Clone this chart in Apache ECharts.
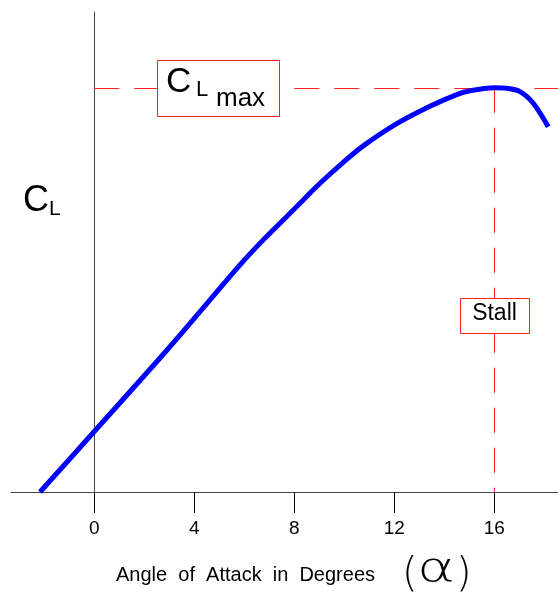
<!DOCTYPE html>
<html>
<head>
<meta charset="utf-8">
<script src="https://cdn.jsdelivr.net/npm/echarts@6/dist/echarts.min.js"></script>
<style>html,body{margin:0;padding:0;background:#fff}#c{width:558px;height:594px}</style>
</head>
<body>
<div id="c"></div>
<script>
// Angle of attack (degrees) and lift coefficient
const alpha = [-2.17, 0, 3.0, 5.83, 6.76, 7.56, 8.36, 9.03, 9.96, 10.76, 12.10, 13.43, 14.50, 15.03, 16.0, 16.5, 17.03, 17.56, 18.16];
const cl    = [0, 0.2395, 0.572, 0.899, 0.998, 1.077, 1.156, 1.222, 1.305, 1.370, 1.458, 1.527, 1.573, 1.588, 1.600, 1.598, 1.585, 1.539, 1.446];
const tickValues = [0, 4, 8, 12, 16];
const clMax = 1.6;
const stallAlpha = 16;
const xMin = -3.33, xMax = 18.55, yMax = 1.9;

const FONT = 'Liberation Sans, Arial, sans-serif';
const chart = echarts.init(document.getElementById('c'), null, {renderer: 'canvas'});
chart.setOption({
  animation: false,
  backgroundColor: '#fff',
  grid: {left: 11, right: 0, top: 12, bottom: 102},
  xAxis: {
    type: 'value', min: xMin, max: xMax,
    splitLine: {show: false},
    axisLine: {lineStyle: {color: '#444', width: 1}},
    axisTick: {show: true, customValues: tickValues, length: 21, lineStyle: {color: '#000', width: 1}},
    axisLabel: {show: true, customValues: tickValues, fontSize: 19, color: '#000', fontFamily: FONT, margin: 27}
  },
  yAxis: {
    type: 'value', min: 0, max: yMax,
    splitLine: {show: false},
    axisLine: {show: true, onZero: true, lineStyle: {color: '#444', width: 1}},
    axisTick: {show: false},
    axisLabel: {show: false}
  },
  series: [{
    type: 'line',
    data: alpha.map((a, i) => [a, cl[i]]),
    showSymbol: false,
    smooth: 0.3,
    lineStyle: {color: '#0000ff', width: 5, cap: 'butt'},
    z: 5,
    markLine: {
      silent: true,
      symbol: 'none',
      label: {show: false},
      lineStyle: {color: '#ff2020', width: 1, type: [25, 15]},
      data: [
        [{coord: [0, clMax]}, {coord: [xMax, clMax]}],
        [{coord: [stallAlpha, clMax]}, {coord: [stallAlpha, 0]}]
      ]
    }
  }],
  graphic: [
    // C_L axis title
    {type: 'text', x: 23, y: 201.5, z: 100, style: {text: 'C', font: '36px ' + FONT, fill: '#000', align: 'left', verticalAlign: 'middle'}},
    {type: 'text', x: 49, y: 209.5, z: 100, style: {text: 'L', font: '21px ' + FONT, fill: '#000', align: 'left', verticalAlign: 'middle'}},
    // C_L max box
    {type: 'rect', z: 100, shape: {x: 157.5, y: 60.5, width: 122, height: 56}, style: {fill: '#fff', stroke: '#ff2020', lineWidth: 1}},
    {type: 'text', x: 166, y: 82.5, z: 101, style: {text: 'C', font: '35px ' + FONT, fill: '#000', align: 'left', verticalAlign: 'middle'}},
    {type: 'text', x: 196, y: 90, z: 101, style: {text: 'L', font: '22px ' + FONT, fill: '#000', align: 'left', verticalAlign: 'middle'}},
    {type: 'text', x: 216, y: 98.7, z: 101, style: {text: 'max', font: '26px ' + FONT, fill: '#000', align: 'left', verticalAlign: 'middle'}},
    // Stall box
    {type: 'rect', z: 100, shape: {x: 460.5, y: 298.5, width: 69, height: 35}, style: {fill: '#fff', stroke: '#ff2020', lineWidth: 1}},
    {type: 'text', x: 494.5, y: 314, z: 101, style: {text: 'Stall', font: '23px ' + FONT, fill: '#000', align: 'center', verticalAlign: 'middle'}},
    // x axis title
    {type: 'text', x: 116, y: 575, z: 100, style: {text: 'Angle  of  Attack  in  Degrees', font: '20px ' + FONT, fill: '#000', align: 'left', verticalAlign: 'middle'}},
    {type: 'text', x: 402, y: 576, z: 100, style: {text: '(', font: '300 40px "DejaVu Sans ExtraLight", "DejaVu Sans", sans-serif', fill: '#000', align: 'left', verticalAlign: 'middle'}},
    {type: 'text', x: 417, y: 571, z: 100, scaleX: 1.45, style: {text: 'α', font: '200 40px "DejaVu Sans ExtraLight", "DejaVu Sans", sans-serif', fill: '#000', align: 'left', verticalAlign: 'middle'}},
    {type: 'text', x: 456, y: 576, z: 100, style: {text: ')', font: '300 40px "DejaVu Sans ExtraLight", "DejaVu Sans", sans-serif', fill: '#000', align: 'left', verticalAlign: 'middle'}}
  ]
});
</script>
</body>
</html>
